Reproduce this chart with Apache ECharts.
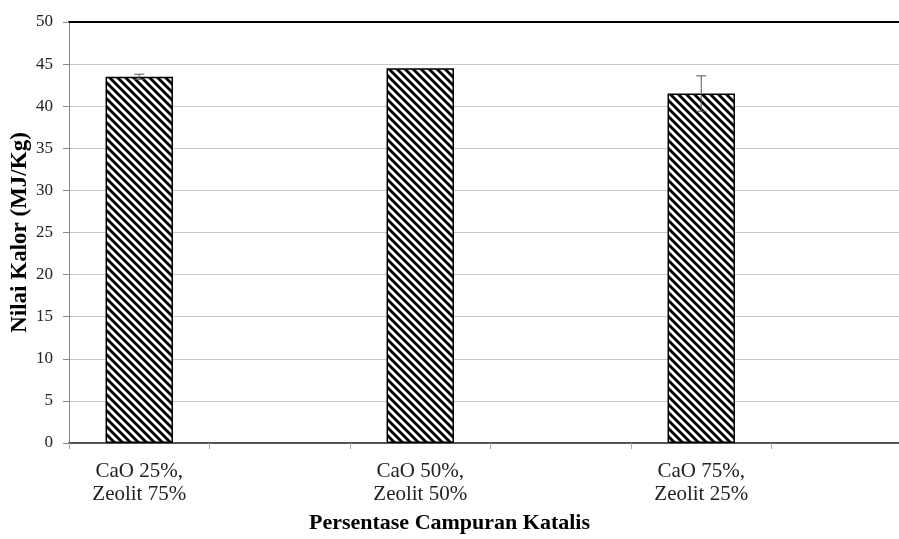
<!DOCTYPE html>
<html>
<head>
<meta charset="utf-8">
<script src="https://cdn.jsdelivr.net/npm/echarts@6/dist/echarts.min.js"></script>
<style>
  html, body { margin: 0; padding: 0; background: #fff; }
  #chart { width: 899px; height: 539px; }
</style>
</head>
<body>
<div id="chart"></div>
<script>
// Category slots: empty slots keep the gaps between the three mixtures
const categories = ['CaO 25%,\nZeolit 75%', '', 'CaO 50%,\nZeolit 50%', '', 'CaO 75%,\nZeolit 25%', ''];
// Heating value (MJ/Kg) per slot
const values = [43.5, null, 44.5, null, 41.5, null];
// Standard deviation per slot
const errors = [0.3, null, 0, null, 2.1, null];
const yTicks = { min: 0, max: 50, interval: 5 };

// Diagonal hatch tile used as the bar fill
function hatchPattern() {
  const s = 8;
  const c = document.createElement('canvas');
  c.width = s; c.height = s;
  const ctx = c.getContext('2d');
  ctx.fillStyle = '#fff';
  ctx.fillRect(0, 0, s, s);
  ctx.strokeStyle = '#000';
  ctx.lineWidth = 2.8;
  for (let k = -1; k <= 1; k++) {
    ctx.beginPath();
    ctx.moveTo(k * s - 1, -1);
    ctx.lineTo(k * s + s + 1, s + 1);
    ctx.stroke();
  }
  return c;
}

const errData = values.map((v, i) => v == null ? null : [i, v, errors[i]]).filter(d => d);

const chart = echarts.init(document.getElementById('chart'), null, { renderer: 'canvas' });
chart.setOption({
  animation: false,
  backgroundColor: '#fff',
  textStyle: { fontFamily: 'Liberation Serif' },
  title: {
    text: 'Persentase Campuran Katalis',
    left: 'center',
    bottom: 0,
    textStyle: { fontFamily: 'Liberation Serif', fontWeight: 'bold', fontSize: 22, color: '#000' }
  },
  // the plot runs past the right edge of the canvas
  grid: { left: 69, right: -13, top: 22, bottom: 96, outerBoundsMode: 'none' },
  xAxis: [{
    type: 'category',
    data: categories,
    axisLine: { lineStyle: { color: '#555', width: 2 } },
    axisTick: { show: true, length: 6, lineStyle: { color: '#aaa' } },
    axisLabel: { color: '#222', fontSize: 21, lineHeight: 23, margin: 17, fontFamily: 'Liberation Serif' }
  }, {
    type: 'category',
    data: categories,
    position: 'top',
    axisLine: { lineStyle: { color: '#000', width: 2 } },
    axisTick: { show: false },
    axisLabel: { show: false }
  }],
  yAxis: {
    type: 'value',
    min: yTicks.min, max: yTicks.max, interval: yTicks.interval,
    name: 'Nilai Kalor (MJ/Kg)',
    nameLocation: 'middle',
    nameGap: 37,
    nameMoveOverlap: false,
    nameTextStyle: { fontFamily: 'Liberation Serif', fontWeight: 'bold', fontSize: 23, color: '#000' },
    axisLine: { show: true, lineStyle: { color: '#888', width: 1 } },
    axisTick: { show: true, length: 6, lineStyle: { color: '#888' } },
    axisLabel: { color: '#222', fontSize: 17, margin: 16, fontFamily: 'Liberation Serif' },
    splitLine: { lineStyle: { color: '#c8c8c8', width: 1 } }
  },
  series: [{
    type: 'bar',
    data: values,
    barWidth: '48%',
    itemStyle: {
      color: { image: hatchPattern(), repeat: 'repeat' },
      borderColor: '#000',
      borderWidth: 1.5
    }
  }, {
    type: 'custom',
    data: errData,
    z: 5,
    renderItem: function (params, api) {
      const x = api.value(0), v = api.value(1), e = api.value(2);
      if (!e) return null;
      const hi = api.coord([x, v + e]);
      const lo = api.coord([x, v - e]);
      const cap = 5;
      const style = { stroke: '#555', lineWidth: 1 };
      return {
        type: 'group',
        children: [
          { type: 'line', shape: { x1: hi[0], y1: hi[1], x2: lo[0], y2: lo[1] }, style },
          { type: 'line', shape: { x1: hi[0] - cap, y1: hi[1], x2: hi[0] + cap, y2: hi[1] }, style },
          { type: 'line', shape: { x1: lo[0] - cap, y1: lo[1], x2: lo[0] + cap, y2: lo[1] }, style }
        ]
      };
    }
  }]
});
</script>
</body>
</html>
